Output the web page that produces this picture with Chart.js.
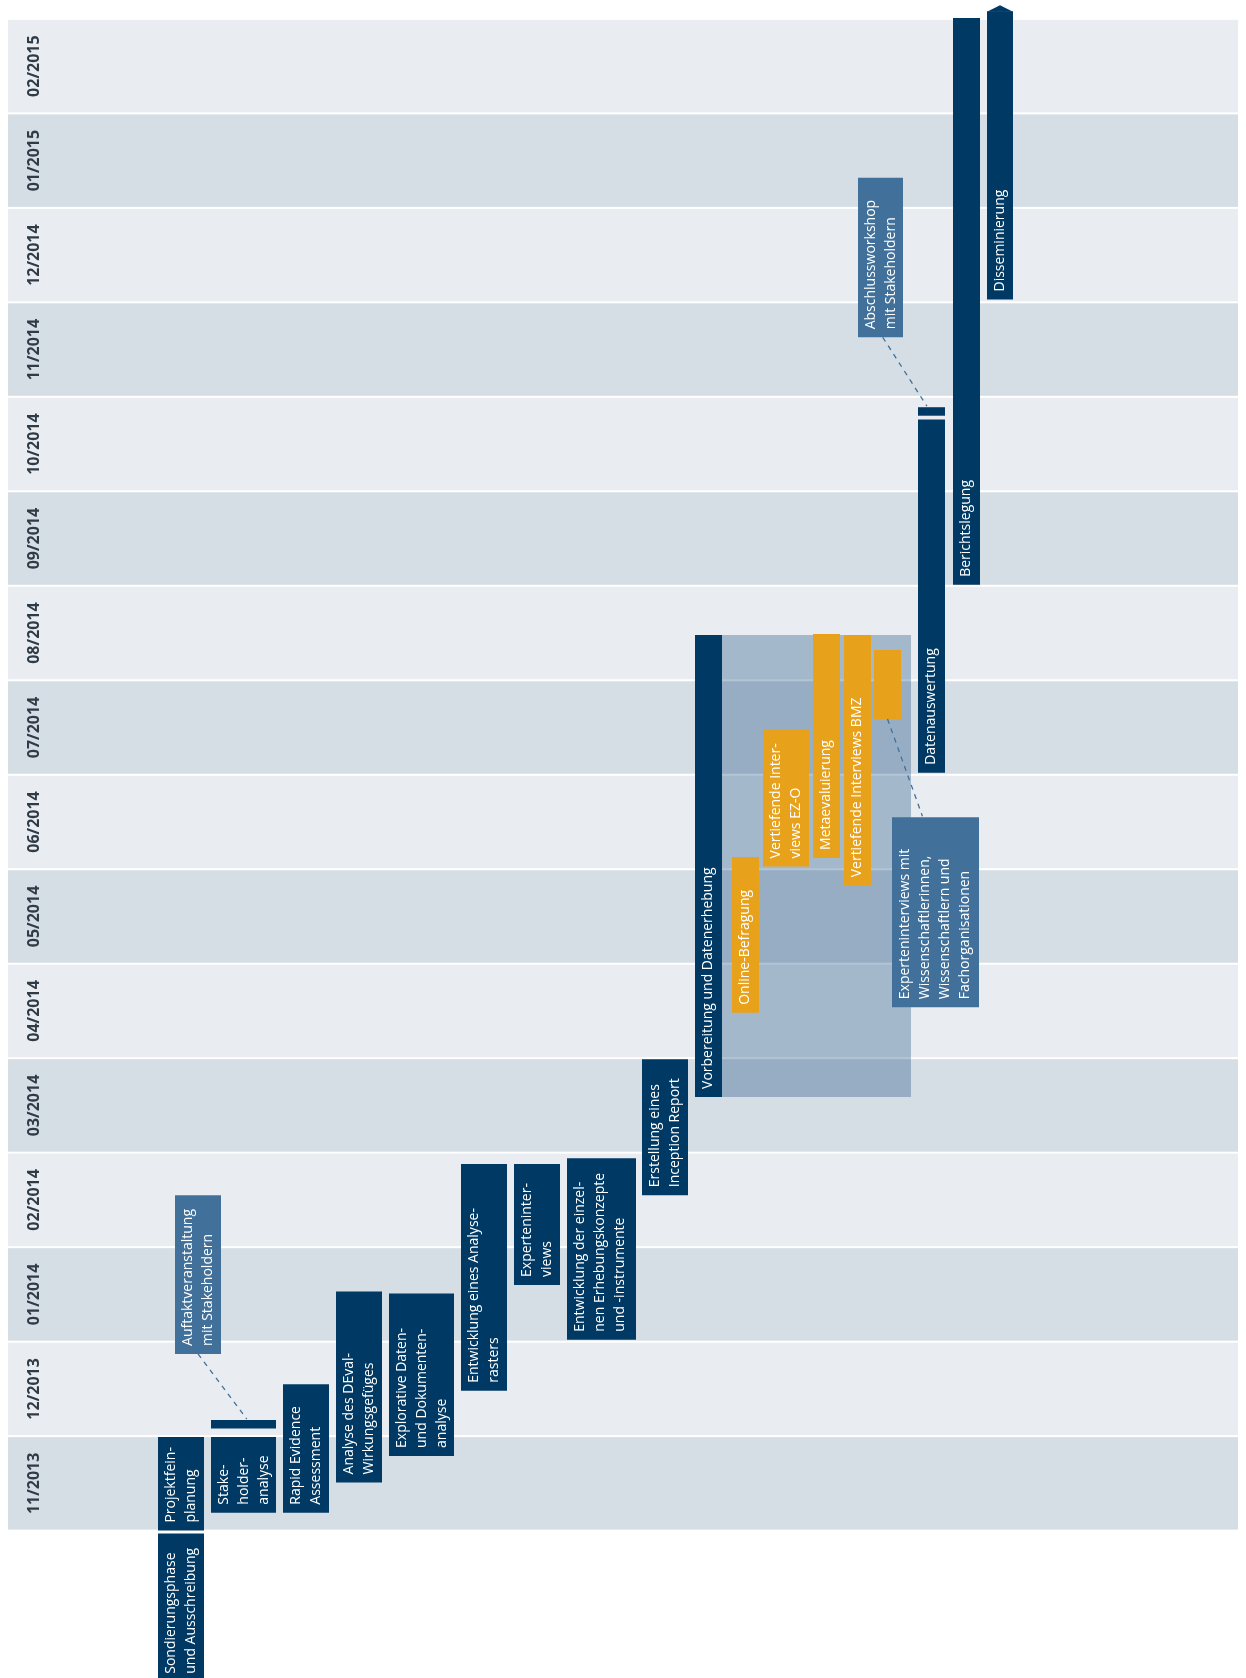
<!DOCTYPE html>
<html>
<head>
<meta charset="utf-8">
<title>Zeitplan</title>
<script src="https://cdn.jsdelivr.net/npm/chart.js@4.4.1/dist/chart.umd.min.js"></script>
<style>
  html, body { margin: 0; padding: 0; background: #ffffff; }
  canvas { display: block; }
</style>
</head>
<body>
<canvas id="plan" width="1246" height="1678"></canvas>
<script>
// months on the time axis, bottom (value 0) to top
const months = ['11/2013', '12/2013', '01/2014', '02/2014', '03/2014', '04/2014', '05/2014', '06/2014',
  '07/2014', '08/2014', '09/2014', '10/2014', '11/2014', '12/2014', '01/2015', '02/2015'];

// tasks: label, start and end in months after 11/2013 begins
const taskNames = [
  'Sondierungsphase\nund Ausschreibung',
  'Projektfein-\nplanung',
  '',
  'Stake-\nholder-\nanalyse',
  'Rapid Evidence\nAssessment',
  'Analyse des DEval-\nWirkungsgefüges',
  'Explorative Daten-\nund Dokumenten-\nanalyse',
  'Entwicklung eines Analyse-\nrasters',
  'Experteninter-\nviews',
  'Entwicklung der einzel-\nnen Erhebungskonzepte\nund -instrumente',
  'Auftaktveranstaltung\nmit Stakeholdern',
  'Erstellung eines\nInception Report',
  'Vorbereitung und Datenerhebung',
  'Online-Befragung',
  'Vertiefende Inter-\nviews EZ-O',
  'Metaevaluierung',
  'Vertiefende Interviews BMZ',
  '',
  'Experteninterviews mit\nWissenschaftlerinnen,\nWissenschaftlern und\nFachorganisationen',
  'Datenauswertung',
  '',
  'Abschlussworkshop\nmit Stakeholdern',
  'Berichtslegung',
  'Disseminierung',
  ''
];
const taskStart = [-1.6, 0.0, 1.08, 0.19, 0.19, 0.51, 0.79, 1.48, 2.60, 2.02, 1.87, 3.55, 4.59,
  5.48, 7.03, 7.12, 6.83, 8.59, 5.54, 8.02, 11.80, 12.63, 10.01, 13.03, 4.59];
const taskEnd = [-0.03, 0.99, 1.17, 0.99, 1.55, 2.53, 2.51, 3.88, 3.88, 3.94, 3.55, 4.99, 9.48,
  7.13, 8.48, 9.49, 9.48, 9.32, 7.55, 11.76, 11.89, 14.32, 16.01, 16.08, 9.48];
// kind: phase, survey, note (callout), area (shaded period)
const taskKind = ['phase', 'phase', 'phase', 'phase', 'phase', 'phase', 'phase', 'phase', 'phase', 'phase',
  'note', 'phase', 'phase', 'survey', 'survey', 'survey', 'survey', 'survey', 'note', 'phase', 'phase',
  'note', 'phase', 'phase', 'area'];

// layout: column centre (px) and width (px) of every task
const laneX = [181, 181, 243.5, 243.5, 306, 359, 421.5, 484, 537, 601.5, 198, 665, 708.5,
  745.5, 786, 826.5, 857.5, 887.5, 935.5, 931.5, 931.5, 880.5, 966.5, 1000, 816.5];
const laneW = [46, 46, 65, 65, 46, 46, 65, 46, 46, 69, 46, 46, 27,
  27, 46, 27, 27, 27, 87, 27, 27, 45, 27, 26, 189];
// dashed connectors: [upper task, lower task, x fraction on upper, x fraction on lower]
const links = [[10, 2, 0.5, 0.55], [21, 20, 0.55, 0.33], [17, 18, 0.5, 0.35]];
const arrowTask = 23;

const colors = {
  phase: '#003a64',
  survey: '#e8a11a',
  note: '#41719a',
  area: 'rgba(33, 81, 131, 0.34)'
};
const bandLight = '#e9edf1';
const bandDark = '#d5dde5';
const textFont = '400 14px "Open Sans", sans-serif';

const datasets = taskNames.map((name, i) => ({
  label: name,
  data: [{ x: laneX[i], y: [taskStart[i], taskEnd[i]] }],
  backgroundColor: colors[taskKind[i]],
  barThickness: laneW[i],
  grouped: false,
  borderWidth: 0,
  inflateAmount: 0,
  order: taskKind[i] === 'area' ? 2 : 1
}));

const bands = {
  id: 'bands',
  beforeDatasetsDraw(chart) {
    const { ctx } = chart;
    const y = chart.scales.y;
    ctx.save();
    months.forEach((m, i) => {
      const top = y.getPixelForValue(i + 1);
      const bot = y.getPixelForValue(i);
      ctx.fillStyle = i % 2 ? bandLight : bandDark;
      ctx.fillRect(8, top + 1, 1230, bot - top - 2);
      ctx.save();
      ctx.translate(39, (top + bot) / 2);
      ctx.rotate(-Math.PI / 2);
      ctx.fillStyle = '#2f3b46';
      ctx.font = '700 16px "Open Sans", sans-serif';
      ctx.textAlign = 'center';
      ctx.textBaseline = 'alphabetic';
      ctx.fillText(m, 0, 0);
      ctx.restore();
    });
    ctx.restore();
  }
};

const labels = {
  id: 'barLabels',
  afterDatasetsDraw(chart) {
    const { ctx, chartArea } = chart;
    const el = i => chart.getDatasetMeta(i).data[0];
    ctx.save();
    ctx.beginPath();
    ctx.rect(chartArea.left, chartArea.top, chartArea.right - chartArea.left, chartArea.bottom - chartArea.top);
    ctx.clip();

    // arrow head on the open-ended task
    const a = el(arrowTask);
    const aTop = Math.min(a.y, a.base);
    ctx.fillStyle = colors.phase;
    ctx.beginPath();
    ctx.moveTo(a.x - a.width / 2, aTop + 0.5);
    ctx.lineTo(a.x, aTop - 6);
    ctx.lineTo(a.x + a.width / 2, aTop + 0.5);
    ctx.closePath();
    ctx.fill();

    // dashed connectors
    ctx.strokeStyle = colors.note;
    ctx.lineWidth = 1.3;
    ctx.setLineDash([5, 5]);
    links.forEach(([from, to, f1, f2]) => {
      const u = el(from), l = el(to);
      ctx.beginPath();
      ctx.moveTo(u.x - u.width / 2 + f1 * u.width, Math.max(u.y, u.base));
      ctx.lineTo(l.x - l.width / 2 + f2 * l.width, Math.min(l.y, l.base) - 1);
      ctx.stroke();
    });
    ctx.setLineDash([]);

    // rotated text inside the bars
    ctx.fillStyle = '#ffffff';
    ctx.font = textFont;
    ctx.textAlign = 'left';
    ctx.textBaseline = 'alphabetic';
    chart.data.datasets.forEach((ds, i) => {
      if (!ds.label) return;
      const b = el(i);
      const left = b.x - b.width / 2;
      const bottom = Math.max(b.y, b.base);
      ctx.save();
      ctx.translate(left, bottom);
      ctx.rotate(-Math.PI / 2);
      ds.label.split('\n').forEach((line, k) => ctx.fillText(line, 8, 17 + 20 * k));
      ctx.restore();
    });
    ctx.restore();
  }
};

new Chart(document.getElementById('plan').getContext('2d'), {
  type: 'bar',
  data: { datasets },
  options: {
    responsive: false,
    animation: false,
    devicePixelRatio: 1,
    layout: { padding: 0 },
    scales: {
      x: { type: 'linear', min: 0, max: 1246, offset: false, display: false },
      y: { type: 'linear', min: -1.56, max: 16.2, display: false }
    },
    plugins: {
      legend: { display: false },
      tooltip: { enabled: false }
    }
  },
  plugins: [bands, labels]
});
</script>
</body>
</html>
